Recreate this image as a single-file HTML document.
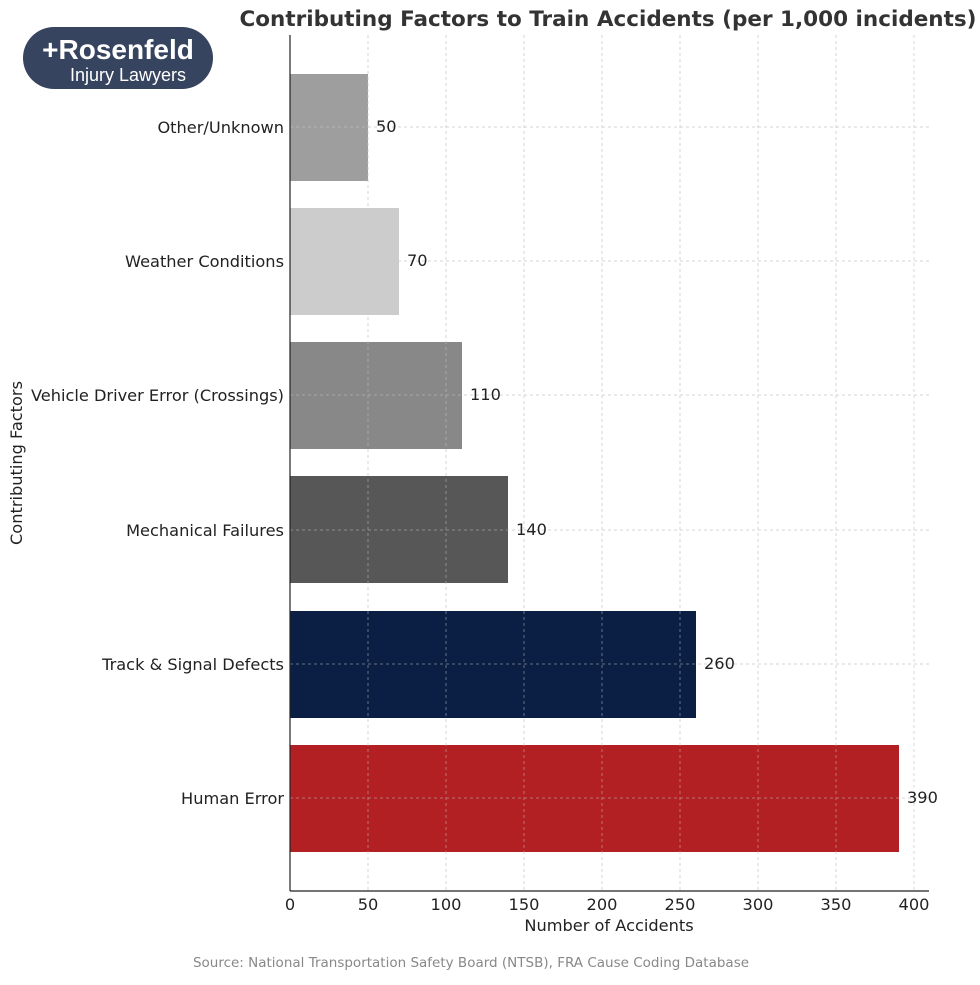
<!DOCTYPE html>
<html><head><meta charset="utf-8"><style>
body{margin:0;background:#fff;}
svg text{font-family:"DejaVu Sans","Liberation Sans",sans-serif;}
</style></head><body>
<svg width="980" height="980" xmlns="http://www.w3.org/2000/svg">
<rect width="980" height="980" fill="#fff"/>
<g stroke="#d8d8d8" stroke-dasharray="3,3" stroke-width="1">
<line x1="368" y1="35" x2="368" y2="891"/><line x1="446" y1="35" x2="446" y2="891"/>
<line x1="524" y1="35" x2="524" y2="891"/><line x1="602" y1="35" x2="602" y2="891"/>
<line x1="680" y1="35" x2="680" y2="891"/><line x1="758" y1="35" x2="758" y2="891"/>
<line x1="836" y1="35" x2="836" y2="891"/><line x1="914" y1="35" x2="914" y2="891"/>
<line x1="290" y1="127" x2="929" y2="127"/><line x1="290" y1="261" x2="929" y2="261"/>
<line x1="290" y1="395" x2="929" y2="395"/><line x1="290" y1="530" x2="929" y2="530"/>
<line x1="290" y1="664" x2="929" y2="664"/><line x1="290" y1="798" x2="929" y2="798"/>
</g>
<rect x="290" y="74" width="78" height="107" fill="#9e9e9e"/>
<rect x="290" y="208" width="109" height="107" fill="#cccccc"/>
<rect x="290" y="342" width="172" height="107" fill="#888888"/>
<rect x="290" y="476" width="218" height="107" fill="#575757"/>
<rect x="290" y="611" width="406" height="107" fill="#0b1f45"/>
<rect x="290" y="745" width="609" height="107" fill="#b22024"/>
<g stroke="#d0d0d0" stroke-dasharray="3,3" stroke-width="1" opacity="0.45">
<line x1="290" y1="127" x2="929" y2="127"/><line x1="290" y1="261" x2="929" y2="261"/>
<line x1="290" y1="395" x2="929" y2="395"/><line x1="290" y1="530" x2="929" y2="530"/>
<line x1="290" y1="664" x2="929" y2="664"/><line x1="290" y1="798" x2="929" y2="798"/>
<line x1="368" y1="35" x2="368" y2="891"/><line x1="446" y1="35" x2="446" y2="891"/>
<line x1="524" y1="35" x2="524" y2="891"/><line x1="602" y1="35" x2="602" y2="891"/>
<line x1="680" y1="35" x2="680" y2="891"/><line x1="758" y1="35" x2="758" y2="891"/>
<line x1="836" y1="35" x2="836" y2="891"/>
</g>
<line x1="290" y1="35" x2="290" y2="891" stroke="#222" stroke-width="1.2"/>
<line x1="290" y1="891" x2="929" y2="891" stroke="#222" stroke-width="1.2"/>
<g font-size="16.2" fill="#222" text-anchor="end">
<text x="284" y="133">Other/Unknown</text>
<text x="284" y="267">Weather Conditions</text>
<text x="284" y="401">Vehicle Driver Error (Crossings)</text>
<text x="284" y="536">Mechanical Failures</text>
<text x="284" y="670">Track &amp; Signal Defects</text>
<text x="284" y="804">Human Error</text>
</g>
<g font-size="16.2" fill="#222">
<text x="376" y="132">50</text><text x="407" y="266">70</text>
<text x="470" y="400">110</text><text x="516" y="535">140</text>
<text x="704" y="669">260</text><text x="907" y="803">390</text>
</g>
<g font-size="16.2" fill="#222" text-anchor="middle">
<text x="290" y="910">0</text><text x="368" y="910">50</text><text x="446" y="910">100</text>
<text x="524" y="910">150</text><text x="602" y="910">200</text><text x="680" y="910">250</text>
<text x="758" y="910">300</text><text x="836" y="910">350</text><text x="914" y="910">400</text>
<text x="609" y="931">Number of Accidents</text>
<text x="0" y="0" transform="translate(22,463) rotate(-90)">Contributing Factors</text>
</g>
<text x="608" y="26" font-size="21.5" font-weight="bold" fill="#333" text-anchor="middle">Contributing Factors to Train Accidents (per 1,000 incidents)</text>
<text x="471" y="967" font-size="13.5" fill="#888" text-anchor="middle">Source: National Transportation Safety Board (NTSB), FRA Cause Coding Database</text>
<rect x="23" y="27" width="190" height="62" rx="31" fill="#36445f"/>
<text x="118" y="59" font-size="28" font-weight="bold" fill="#fff" text-anchor="middle" style="font-family:'Liberation Sans',sans-serif">+Rosenfeld</text>
<text x="128" y="81" font-size="18" fill="#fff" text-anchor="middle" style="font-family:'Liberation Sans',sans-serif">Injury Lawyers</text>
</svg>
</body></html>
